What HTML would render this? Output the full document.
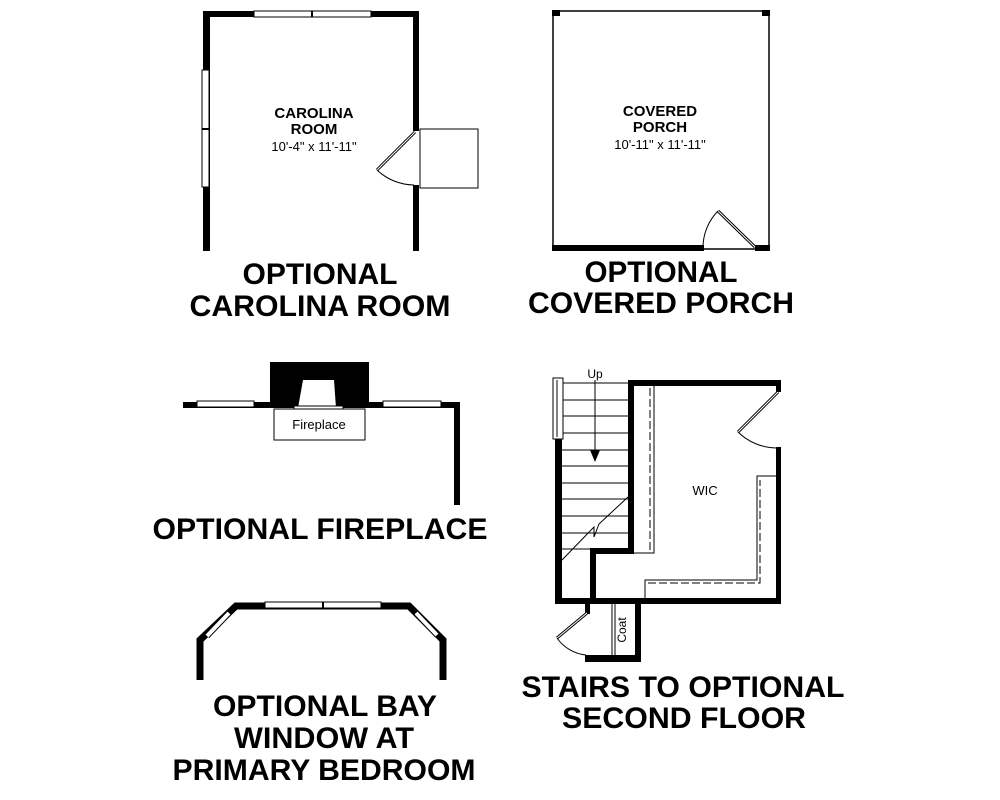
<!DOCTYPE html>
<html><head><meta charset="utf-8"><style>
html,body{margin:0;padding:0;background:#fff;}
svg{display:block;}
text{font-family:"Liberation Sans",sans-serif;fill:#000;}
.t{font-weight:bold;font-size:30px;}
</style></head><body>
<svg width="1000" height="800" viewBox="0 0 1000 800" xmlns="http://www.w3.org/2000/svg">
<rect width="1000" height="800" fill="#fff"/>
<!-- CAROLINA ROOM -->
<g>
<rect x="203" y="11" width="216" height="6" fill="#000"/>
<rect x="203" y="11" width="7" height="240" fill="#000"/>
<rect x="413" y="11" width="6" height="120" fill="#000"/>
<rect x="413" y="185" width="6" height="66" fill="#000"/>
<rect x="254" y="11" width="117" height="6" fill="#fff" stroke="#000" stroke-width="1"/>
<line x1="312" y1="11" x2="312" y2="17" stroke="#000" stroke-width="2"/>
<rect x="202" y="70" width="7" height="117" fill="#fff" stroke="#000" stroke-width="1"/>
<line x1="202" y1="129" x2="209" y2="129" stroke="#000" stroke-width="2"/>
<rect x="420" y="129" width="58" height="59" fill="#fff" stroke="#000" stroke-width="1"/>
<line x1="415" y1="132" x2="377" y2="170" stroke="#000" stroke-width="3"/>
<line x1="415" y1="132" x2="377" y2="170" stroke="#fff" stroke-width="1"/>
<path d="M377 170 A55 55 0 0 0 414 185" fill="none" stroke="#000" stroke-width="1"/>
<text x="314" y="118" text-anchor="middle" font-weight="bold" font-size="15">CAROLINA</text>
<text x="314" y="134" text-anchor="middle" font-weight="bold" font-size="15">ROOM</text>
<text x="314" y="151" text-anchor="middle" font-size="13">10'-4" x 11'-11"</text>
</g>
<text class="t" x="320" y="284" text-anchor="middle" textLength="155" lengthAdjust="spacingAndGlyphs">OPTIONAL</text>
<text class="t" x="320" y="316" text-anchor="middle" textLength="261" lengthAdjust="spacingAndGlyphs">CAROLINA ROOM</text>
<!-- PORCH -->
<g>
<rect x="553" y="11" width="216" height="238" fill="none" stroke="#000" stroke-width="1.5"/>
<rect x="552" y="10" width="8" height="6" fill="#000"/>
<rect x="762" y="10" width="8" height="6" fill="#000"/>
<rect x="552" y="245" width="152" height="6" fill="#000"/>
<rect x="755" y="245" width="15" height="6" fill="#000"/>
<line x1="755" y1="247" x2="718" y2="211" stroke="#000" stroke-width="3"/>
<line x1="755" y1="247" x2="718" y2="211" stroke="#fff" stroke-width="1"/>
<path d="M718 211 A52 52 0 0 0 703 248" fill="none" stroke="#000" stroke-width="1"/>
<text x="660" y="116" text-anchor="middle" font-weight="bold" font-size="15">COVERED</text>
<text x="660" y="132" text-anchor="middle" font-weight="bold" font-size="15">PORCH</text>
<text x="660" y="149" text-anchor="middle" font-size="13">10'-11" x 11'-11"</text>
</g>
<text class="t" x="661" y="282" text-anchor="middle" textLength="153" lengthAdjust="spacingAndGlyphs">OPTIONAL</text>
<text class="t" x="661" y="313" text-anchor="middle" textLength="266" lengthAdjust="spacingAndGlyphs">COVERED PORCH</text>
<!-- FIREPLACE -->
<g>
<rect x="183" y="402" width="277" height="6" fill="#000"/>
<rect x="454" y="402" width="6" height="103" fill="#000"/>
<rect x="197" y="401" width="57" height="6" fill="#fff" stroke="#000" stroke-width="1"/>
<rect x="383" y="401" width="58" height="6" fill="#fff" stroke="#000" stroke-width="1"/>
<rect x="270" y="362" width="99" height="44" fill="#000"/>
<polygon points="303,380 334,380 336,408 298,408" fill="#fff"/>
<rect x="294" y="406" width="49" height="3" fill="#fff" stroke="#000" stroke-width="1"/>
<rect x="274" y="409" width="91" height="31" fill="#fff" stroke="#000" stroke-width="1"/>
<text x="319" y="429" text-anchor="middle" font-size="13">Fireplace</text>
</g>
<text class="t" x="320" y="539" text-anchor="middle" textLength="335" lengthAdjust="spacingAndGlyphs">OPTIONAL FIREPLACE</text>
<!-- BAY -->
<g fill="none">
<polyline points="200,680 200,640 236,606 409,606 443,640 443,680" stroke="#000" stroke-width="7"/>
<rect x="265" y="602" width="116" height="6" fill="#fff" stroke="#000" stroke-width="1"/>
<line x1="323" y1="602" x2="323" y2="608" stroke="#000" stroke-width="2"/>
<line x1="229" y1="613" x2="207" y2="636" stroke="#000" stroke-width="6"/>
<line x1="229" y1="613" x2="207" y2="636" stroke="#fff" stroke-width="4"/>
<line x1="416" y1="613" x2="437" y2="635" stroke="#000" stroke-width="6"/>
<line x1="416" y1="613" x2="437" y2="635" stroke="#fff" stroke-width="4"/>
</g>
<text class="t" x="325" y="716" text-anchor="middle" textLength="224" lengthAdjust="spacingAndGlyphs">OPTIONAL BAY</text>
<text class="t" x="324" y="748" text-anchor="middle" textLength="180" lengthAdjust="spacingAndGlyphs">WINDOW AT</text>
<text class="t" x="324" y="780" text-anchor="middle" textLength="303" lengthAdjust="spacingAndGlyphs">PRIMARY BEDROOM</text>
<!-- STAIRS -->
<g>
<g stroke="#000" stroke-width="1">
<line x1="562" y1="383" x2="630" y2="383"/><line x1="562" y1="400" x2="630" y2="400"/>
<line x1="562" y1="416" x2="630" y2="416"/><line x1="562" y1="433" x2="630" y2="433"/>
<line x1="562" y1="450" x2="630" y2="450"/><line x1="562" y1="466" x2="630" y2="466"/>
<line x1="562" y1="483" x2="630" y2="483"/><line x1="562" y1="499" x2="630" y2="499"/>
<line x1="562" y1="516" x2="630" y2="516"/><line x1="562" y1="533" x2="630" y2="533"/>
<line x1="562" y1="549" x2="592" y2="549"/>
<line x1="595" y1="380" x2="595" y2="452"/>
<polyline points="628,497 599,524 594,537 594,527 562,560" fill="none"/>
</g>
<polygon points="590,450 600,450 595,462" fill="#000"/>
<text x="595" y="378" text-anchor="middle" font-size="12">Up</text>
<rect x="555" y="439" width="7" height="165" fill="#000"/>
<rect x="553" y="378" width="10" height="61" fill="#fff" stroke="#000" stroke-width="1"/>
<line x1="557" y1="380" x2="557" y2="437" stroke="#000" stroke-width="1"/>
<rect x="628" y="380" width="153" height="6" fill="#000"/>
<rect x="628" y="380" width="6" height="174" fill="#000"/>
<rect x="590" y="548" width="44" height="6" fill="#000"/>
<rect x="590" y="548" width="6" height="56" fill="#000"/>
<rect x="555" y="598" width="226" height="6" fill="#000"/>
<rect x="776" y="380" width="5" height="12" fill="#000"/>
<rect x="776" y="447" width="5" height="157" fill="#000"/>
<line x1="778" y1="392" x2="738" y2="432" stroke="#000" stroke-width="3"/>
<line x1="778" y1="392" x2="738" y2="432" stroke="#fff" stroke-width="1"/>
<path d="M738 432 A56 56 0 0 0 776 448" fill="none" stroke="#000" stroke-width="1"/>
<g fill="none" stroke="#000" stroke-width="1">
<polyline points="634,553 654,553 654,386"/>
<line x1="650" y1="388" x2="650" y2="550" stroke-dasharray="8,3"/>
<polyline points="645,598 645,580 757,580 757,476 776,476"/>
<polyline points="648,583 760,583 760,480" stroke-dasharray="8,3"/>
</g>
<text x="705" y="495" text-anchor="middle" font-size="13">WIC</text>
<rect x="585" y="604" width="5" height="10" fill="#000"/>
<rect x="585" y="655" width="56" height="7" fill="#000"/>
<rect x="635" y="604" width="6" height="58" fill="#000"/>
<line x1="587" y1="613" x2="557" y2="638" stroke="#000" stroke-width="3"/>
<line x1="587" y1="613" x2="557" y2="638" stroke="#fff" stroke-width="1"/>
<path d="M557 638 A40 40 0 0 0 586 655" fill="none" stroke="#000" stroke-width="1"/>
<line x1="612" y1="604" x2="612" y2="655" stroke="#000" stroke-width="1"/>
<line x1="615" y1="604" x2="615" y2="655" stroke="#000" stroke-width="1"/>
<text transform="translate(626,630) rotate(-90)" text-anchor="middle" font-size="12">Coat</text>
</g>
<text class="t" x="683" y="697" text-anchor="middle" textLength="323" lengthAdjust="spacingAndGlyphs">STAIRS TO OPTIONAL</text>
<text class="t" x="684" y="728" text-anchor="middle" textLength="244" lengthAdjust="spacingAndGlyphs">SECOND FLOOR</text>
</svg>
</body></html>
